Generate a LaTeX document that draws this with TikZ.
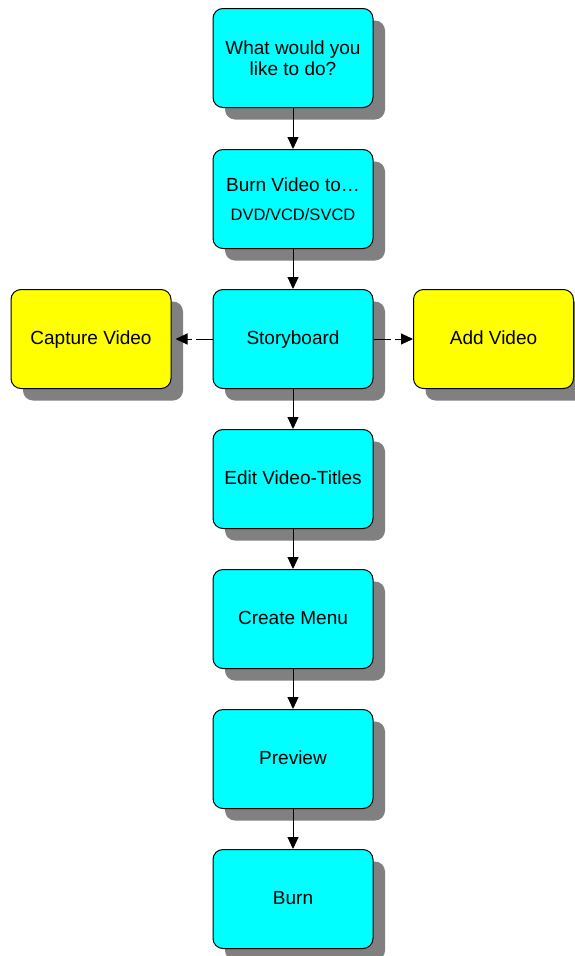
\documentclass[tikz,border=0pt]{standalone}
\usepackage{fontspec}
\setmainfont{Liberation Sans}
\usetikzlibrary{shadows,arrows.meta}
\definecolor{boxcyan}{RGB}{0,255,255}
\definecolor{boxyellow}{RGB}{255,255,0}
\tikzset{
  flowbox/.style={draw=black, line width=1pt, rounded corners=10pt,
    minimum width=160pt, minimum height=99pt, inner sep=0pt, align=center,
    font=\fontsize{19}{21.5}\selectfont,
    drop shadow={shadow xshift=12pt, shadow yshift=-12pt, fill=black!50, opacity=1}},
  oneline/.style={text height=14pt, text depth=4pt},
  cyanbox/.style={flowbox, fill=boxcyan},
  yellowbox/.style={flowbox, fill=boxyellow},
  flowarrow/.style={draw=black, line width=1pt, -{Triangle[length=12pt,width=11pt]}},
  sidearrow/.style={flowarrow, dash pattern=on 17pt off 4pt}
}
\begin{document}
\begin{tikzpicture}[x=1pt,y=-1pt]
\useasboundingbox (0,0) rectangle (574,956);
\node[cyanbox] (ask) at (293,58) {What would you\\like to do?};
\node[cyanbox] (burnto) at (293,199) {Burn Video to\ldots\\[7pt]{\fontsize{16.5}{18}\selectfont DVD/VCD/SVCD}};
\node[cyanbox, oneline] (story) at (293,339) {Storyboard};
\node[yellowbox, oneline] (capture) at (91,339) {Capture Video};
\node[yellowbox, oneline] (add) at (493.5,339) {Add Video};
\node[cyanbox, oneline] (edit) at (293,479) {Edit Video-Titles};
\node[cyanbox, oneline] (menu) at (293,619) {Create Menu};
\node[cyanbox, oneline] (preview) at (293,759) {Preview};
\node[cyanbox, oneline] (burn) at (293,899) {Burn};
\draw[flowarrow] (ask) -- (burnto);
\draw[flowarrow] (burnto) -- (story);
\draw[flowarrow] (story) -- (edit);
\draw[flowarrow] (edit) -- (menu);
\draw[flowarrow] (menu) -- (preview);
\draw[flowarrow] (preview) -- (burn);
\draw[sidearrow, shorten >=4pt] (story.west) -- (capture.east);
\draw[sidearrow] (story.east) -- (add.west);
\end{tikzpicture}
\end{document}
